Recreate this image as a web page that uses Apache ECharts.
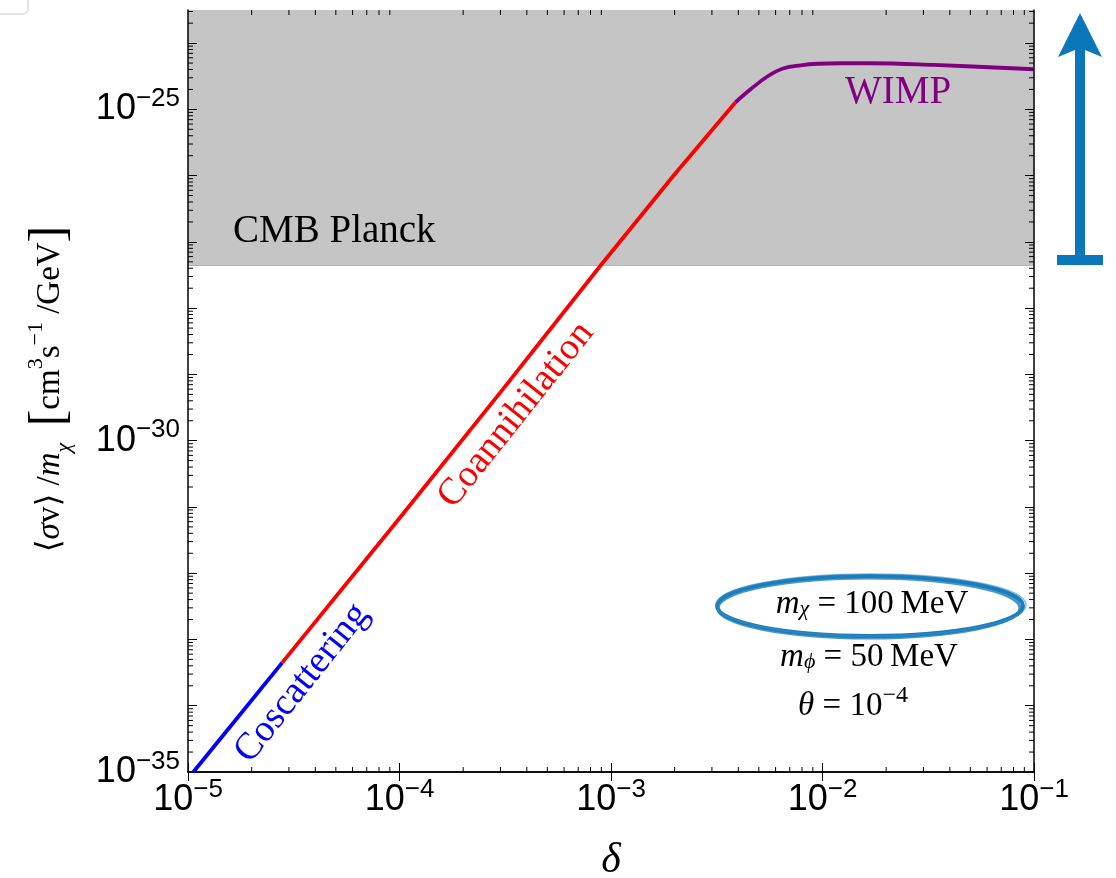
<!DOCTYPE html>
<html>
<head>
<meta charset="utf-8">
<title>sigma v vs delta</title>
<script src="https://cdn.jsdelivr.net/npm/echarts@6/dist/echarts.min.js"></script>
<style>
  html, body { margin: 0; padding: 0; background: #fff; }
  #chart { width: 1116px; height: 878px; }
</style>
</head>
<body>
<div id="chart"></div>
<script>
// 数据：读自原图 (log-log)
var deltaBlue = [1.06e-5, 2.79e-5];
var sigmaBlue = [1.0e-35, 4.47e-34];

var deltaRed = [2.79e-5, 1.0e-4, 3.16e-4, 8.91e-4, 2.0e-3, 3.88e-3];
var sigmaRed = [4.47e-34, 6.76e-32, 6.61e-30, 4.37e-28, 1.05e-26, 1.28e-25];

var deltaPurple = [3.88e-3, 4.57e-3, 5.51e-3, 6.56e-3, 7.89e-3, 9.5e-3, 1.22e-2, 1.69e-2, 3.36e-2, 0.1];
var sigmaPurple = [1.28e-25, 2.01e-25, 3.16e-25, 4.17e-25, 4.63e-25, 4.88e-25, 4.97e-25, 4.97e-25, 4.68e-25, 4.03e-25];

var cmbLimit = 4.4e-28;

// axis ranges and ticks
var xMin = 1e-5, xMax = 1e-1;
var yMin = 1e-35, yMax = 3.16e-24;
var xDecades = [-5, -4, -3, -2];
var yDecades = [-35, -34, -33, -32, -31, -30, -29, -28, -27, -26, -25, -24];
var yLabelEvery = 5;
var minorSteps = [2, 3, 4, 5, 6, 7, 8, 9];

var serif = '"Liberation Serif", "DejaVu Serif", serif';
var sans = '"Liberation Sans", Arial, sans-serif';

function pairs(xs, ys) {
    var out = [];
    for (var i = 0; i < xs.length; i++) out.push([xs[i], ys[i]]);
    return out;
}

// 次刻度位置
function minorTicks(decades, maxVal) {
    var out = [];
    decades.forEach(function (e) {
        minorSteps.forEach(function (k) {
            var v = k * Math.pow(10, e);
            if (v < maxVal) out.push(v);
        });
    });
    return out;
}
var xMinor = minorTicks(xDecades, xMax);
var yMinor = minorTicks(yDecades, yMax);

function powLabel(v, every) {
    var lg = Math.log10(v);
    var e = Math.round(lg);
    if (Math.abs(lg - e) > 0.01) return '';
    if (every && e % every !== 0) return '';
    return '{b|10}{s|' + (e < 0 ? '\u2212' : '') + Math.abs(e) + '}';
}

var labelRich = {
    b: { fontSize: 36, fontFamily: sans, color: '#000', fill: '#000', lineHeight: 47 },
    s: { fontSize: 26, fontFamily: sans, color: '#000', fill: '#000', lineHeight: 26, verticalAlign: 'top' }
};

var frameLine = { show: true, lineStyle: { color: '#000', width: 1.5 } };
var majorTick = { show: true, inside: true, length: 9, lineStyle: { color: '#000', width: 1 } };

// 公式文字样式
var mathRich = {
    n: { fontFamily: serif, fontSize: 33, fill: '#000', lineHeight: 33 },
    i: { fontFamily: serif, fontSize: 33, fontStyle: 'italic', fill: '#000', lineHeight: 33 },
    sub: { fontFamily: serif, fontSize: 22, fontStyle: 'italic', fill: '#000', lineHeight: 33, verticalAlign: 'bottom' },
    sup: { fontFamily: serif, fontSize: 24, fill: '#000', lineHeight: 44, verticalAlign: 'top' }
};

var chart = echarts.init(document.getElementById('chart'));

var option = {
    animation: false,
    backgroundColor: '#fff',
    grid: { left: 188, top: 10, right: 82, bottom: 106, containLabel: false, outerBoundsMode: 'none' },
    xAxis: [
        {
            type: 'log', min: xMin, max: xMax, interval: 1, position: 'bottom',
            axisLine: frameLine, axisTick: majorTick, splitLine: { show: false },
            axisLabel: { margin: 5, showMinLabel: true, showMaxLabel: true, formatter: function (v) { return powLabel(v, 0); }, rich: labelRich },
            name: '\u03b4', nameLocation: 'middle', nameGap: 68,
            nameTextStyle: { fontFamily: serif, fontStyle: 'italic', fontSize: 42, color: '#000' }
        },
        {
            type: 'log', min: xMin, max: xMax, interval: 1, position: 'top',
            axisLine: frameLine, axisTick: majorTick, splitLine: { show: false },
            axisLabel: { show: false }
        }
    ],
    yAxis: [
        {
            type: 'log', min: yMin, max: yMax, interval: 1, position: 'left',
            axisLine: frameLine, axisTick: majorTick, splitLine: { show: false },
            axisLabel: { margin: 8, showMinLabel: true, formatter: function (v) { return powLabel(v, yLabelEvery); }, rich: labelRich }
        },
        {
            type: 'log', min: yMin, max: yMax, interval: 1, position: 'right',
            axisLine: frameLine, axisTick: majorTick, splitLine: { show: false },
            axisLabel: { show: false }
        }
    ],
    series: [
        {
            // CMB Planck 排除区
            name: 'CMB', type: 'custom', silent: true, z: 0,
            data: [[cmbLimit, yMax]],
            renderItem: function (params, api) {
                var p0 = api.coord([xMin, api.value(1)]);
                var p1 = api.coord([xMax, api.value(0)]);
                return {
                    type: 'group', children: [
                        { type: 'rect', shape: { x: p0[0], y: p0[1], width: p1[0] - p0[0], height: p1[1] - p0[1] }, style: { fill: '#c5c5c5' } },
                        { type: 'line', shape: { x1: p0[0], y1: p1[1], x2: p1[0], y2: p1[1] }, style: { stroke: '#b5b5b5', lineWidth: 1 } }
                    ]
                };
            }
        },
        {
            name: 'xMinor', type: 'custom', silent: true, z: 10, clip: false,
            data: xMinor.map(function (v) { return [v, yMin]; }),
            renderItem: function (params, api) {
                var cs = params.coordSys;
                var p = api.coord([api.value(0), yMin]);
                var st = { stroke: '#000', lineWidth: 1 };
                return {
                    type: 'group', children: [
                        { type: 'line', shape: { x1: p[0], y1: cs.y + cs.height, x2: p[0], y2: cs.y + cs.height - 5 }, style: st },
                        { type: 'line', shape: { x1: p[0], y1: cs.y, x2: p[0], y2: cs.y + 5 }, style: st }
                    ]
                };
            }
        },
        {
            name: 'yMinor', type: 'custom', silent: true, z: 10, clip: false,
            data: yMinor.map(function (v) { return [xMin, v]; }),
            renderItem: function (params, api) {
                var cs = params.coordSys;
                var p = api.coord([xMin, api.value(1)]);
                var st = { stroke: '#000', lineWidth: 1 };
                return {
                    type: 'group', children: [
                        { type: 'line', shape: { x1: cs.x, y1: p[1], x2: cs.x + 5, y2: p[1] }, style: st },
                        { type: 'line', shape: { x1: cs.x + cs.width, y1: p[1], x2: cs.x + cs.width - 5, y2: p[1] }, style: st }
                    ]
                };
            }
        },
        {
            name: 'Coscattering', type: 'line', z: 5, showSymbol: false, silent: true,
            data: pairs(deltaBlue, sigmaBlue),
            lineStyle: { color: '#0000ff', width: 3.8 }
        },
        {
            name: 'Coannihilation', type: 'line', z: 5, showSymbol: false, silent: true,
            data: pairs(deltaRed, sigmaRed),
            lineStyle: { color: '#ff0000', width: 3.8 }
        },
        {
            name: 'WIMP', type: 'line', z: 5, showSymbol: false, silent: true, smooth: 0.4,
            data: pairs(deltaPurple, sigmaPurple),
            lineStyle: { color: '#800080', width: 3.8 }
        }
    ],
    graphic: [
        // 左上角残留的窗口边框
        { type: 'rect', z: 20, shape: { x: -8, y: -8, width: 36, height: 22, r: 5 }, style: { fill: '#fff', stroke: '#d9d9d9', lineWidth: 1.5 } },
        // 纵轴标题
        {
            type: 'text', z: 20, x: 50, y: 389, rotation: Math.PI / 2,
            style: {
                text: '{n|\u27e8}{i|\u03c3}{n|v\u27e9 /}{i|m}{sub|\u03c7}{n|  }{br|[}{n|cm}{sup|3}{n|s}{sup|\u22121}{n| /GeV}{br|]}',
                align: 'center', verticalAlign: 'middle',
                rich: {
                    n: { fontFamily: serif, fontSize: 33, fill: '#000', lineHeight: 33 },
                    i: { fontFamily: serif, fontSize: 33, fontStyle: 'italic', fill: '#000', lineHeight: 33 },
                    sub: { fontFamily: serif, fontSize: 22, fontStyle: 'italic', fill: '#000', lineHeight: 32, verticalAlign: 'bottom' },
                    sup: { fontFamily: serif, fontSize: 22, fill: '#000', lineHeight: 42, verticalAlign: 'top' },
                    br: { fontFamily: serif, fontSize: 50, fill: '#000', lineHeight: 50 }
                }
            }
        },
        { type: 'text', z: 20, x: 233, y: 232, style: { text: 'CMB Planck', font: '39px ' + serif, fill: '#000', align: 'left', verticalAlign: 'middle' } },
        { type: 'text', z: 20, x: 845, y: 93, style: { text: 'WIMP', font: '39px ' + serif, fill: '#800080', align: 'left', verticalAlign: 'middle' } },
        { type: 'text', z: 20, x: 302, y: 683, rotation: 51.4 * Math.PI / 180, style: { text: 'Coscattering', font: '38px ' + serif, fill: '#0000ff', align: 'center', verticalAlign: 'middle' } },
        { type: 'text', z: 20, x: 516, y: 415, rotation: 51.4 * Math.PI / 180, style: { text: 'Coannihilation', font: '38px ' + serif, fill: '#ff0000', align: 'center', verticalAlign: 'middle' } },
        { type: 'text', z: 20, x: 872, y: 604, style: { text: '{i|m}{sub|\u03c7}{n| = 100\u2009MeV}', align: 'center', verticalAlign: 'middle', rich: mathRich } },
        { type: 'text', z: 20, x: 869, y: 657, style: { text: '{i|m}{sub|\u03d5}{n| = 50\u2009MeV}', align: 'center', verticalAlign: 'middle', rich: mathRich } },
        { type: 'text', z: 20, x: 853, y: 706, style: { text: '{i|\u03b8}{n| = 10}{sup|\u22124}', align: 'center', verticalAlign: 'middle', rich: mathRich } },
        // 手绘圈
        { type: 'ellipse', z: 20, shape: { cx: 870, cy: 606, rx: 153, ry: 30 }, style: { fill: 'none', stroke: '#1b7dbc', lineWidth: 4 } },
        { type: 'ellipse', z: 20, shape: { cx: 869, cy: 608, rx: 151, ry: 30 }, style: { fill: 'none', stroke: '#1b7dbc', lineWidth: 3, opacity: 0.8 } },
        { type: 'ellipse', z: 20, shape: { cx: 871, cy: 605, rx: 155, ry: 31 }, style: { fill: 'none', stroke: '#3a8fc6', lineWidth: 1.5, opacity: 0.6 } },
        // 箭头
        { type: 'rect', z: 20, shape: { x: 1075, y: 48, width: 10, height: 212 }, style: { fill: '#0a77ba' } },
        { type: 'polygon', z: 20, shape: { points: [[1080, 13], [1102, 57], [1085, 50], [1075, 50], [1058, 57]] }, style: { fill: '#0a77ba' } },
        { type: 'rect', z: 20, shape: { x: 1057, y: 255, width: 46, height: 10 }, style: { fill: '#0a77ba' } }
    ]
};

chart.setOption(option);

// 角落的 10^-35 标签被 v6 的重叠处理隐藏了，按轴坐标补上
var corner = chart.convertToPixel({ gridIndex: 0 }, [xMin, yMin]);
option.graphic.push({
    type: 'text', z: 20, x: corner[0] - 8, y: corner[1],
    style: { text: powLabel(yMin, yLabelEvery), align: 'right', verticalAlign: 'middle', rich: labelRich }
});
chart.setOption({ graphic: option.graphic });
</script>
</body>
</html>
